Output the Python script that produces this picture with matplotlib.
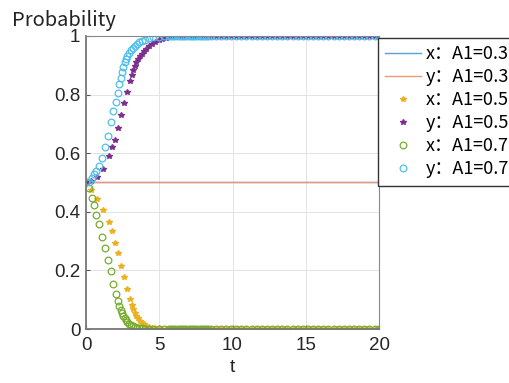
import matplotlib
matplotlib.use("Agg")
import matplotlib.pyplot as plt

# A1 = 0.3: both x and y stay at 0.5
t03 = [0.0, 20.0]
x03 = [0.5, 0.5]
y03 = [0.5, 0.5]

# A1 = 0.5 (transition part)
t05 = [0.0, 0.34, 0.73, 1.14, 1.55, 1.75, 1.98, 2.21, 2.39, 2.60, 2.80, 3.00,
       3.12, 3.23, 3.33, 3.44, 3.56, 3.68, 3.81, 3.96, 4.12, 4.30, 4.50, 4.72,
       4.96, 5.22, 5.45, 5.65]
x05 = [0.5, 0.474, 0.442, 0.405, 0.366, 0.333, 0.293, 0.259, 0.216, 0.176,
       0.136, 0.102, 0.082, 0.068, 0.056, 0.046, 0.036, 0.028, 0.021, 0.016,
       0.011, 0.007, 0.005, 0.003, 0.002, 0.001, 0.0, 0.0]
y05 = [0.5, 0.506, 0.52, 0.545, 0.59, 0.62, 0.645, 0.685, 0.729, 0.772, 0.81,
       0.848, 0.868, 0.885, 0.898, 0.91, 0.921, 0.931, 0.94, 0.949, 0.957,
       0.965, 0.972, 0.979, 0.985, 0.99, 0.994, 0.997]

# A1 = 0.7 (transition part)
t07 = [0.0, 0.18, 0.39, 0.55, 0.70, 0.89, 1.09, 1.28, 1.48, 1.69, 1.86, 2.03,
       2.16, 2.27, 2.37, 2.46, 2.55, 2.64, 2.73, 2.83, 2.94, 3.06, 3.19, 3.33,
       3.48, 3.65, 3.84, 4.05, 4.30, 4.60, 4.95, 5.30, 5.65]
x07 = [0.5, 0.48, 0.446, 0.423, 0.39, 0.357, 0.315, 0.277, 0.236, 0.197,
       0.155, 0.12, 0.097, 0.08, 0.066, 0.055, 0.045, 0.037, 0.03, 0.023,
       0.017, 0.012, 0.009, 0.006, 0.004, 0.003, 0.002, 0.001, 0.0, 0.0, 0.0,
       0.0, 0.0]
y07 = [0.5, 0.503, 0.517, 0.528, 0.54, 0.556, 0.585, 0.62, 0.66, 0.705,
       0.745, 0.775, 0.805, 0.835, 0.857, 0.877, 0.895, 0.91, 0.922, 0.933,
       0.943, 0.952, 0.96, 0.967, 0.973, 0.979, 0.984, 0.988, 0.992, 0.995,
       0.997, 0.999, 1.0]

# steady part after the transition (same sampling for both solutions)
t_tail = [5.8, 5.95, 6.1, 6.25, 6.4, 6.55, 6.7, 6.85, 7.0, 7.15, 7.3, 7.45,
          7.6, 7.75, 7.9, 8.05, 8.2, 8.35, 8.5, 8.85, 9.2, 9.55, 9.9, 10.25,
          10.6, 10.95, 11.3, 11.65, 12.0, 12.35, 12.7, 13.05, 13.4, 13.75,
          14.1, 14.45, 14.8, 15.15, 15.5, 15.85, 16.2, 16.55, 16.9, 17.25,
          17.6, 17.95, 18.3, 18.65, 19.0, 19.35, 19.7, 20.0]
x_tail = [0.0, 0.0, 0.0, 0.0, 0.0, 0.0, 0.0, 0.0, 0.0, 0.0, 0.0, 0.0, 0.0,
          0.0, 0.0, 0.0, 0.0, 0.0, 0.0, 0.0, 0.0, 0.0, 0.0, 0.0, 0.0, 0.0,
          0.0, 0.0, 0.0, 0.0, 0.0, 0.0, 0.0, 0.0, 0.0, 0.0, 0.0, 0.0, 0.0,
          0.0, 0.0, 0.0, 0.0, 0.0, 0.0, 0.0, 0.0, 0.0, 0.0, 0.0, 0.0, 0.0]
y_tail = [1.0, 1.0, 1.0, 1.0, 1.0, 1.0, 1.0, 1.0, 1.0, 1.0, 1.0, 1.0, 1.0,
          1.0, 1.0, 1.0, 1.0, 1.0, 1.0, 1.0, 1.0, 1.0, 1.0, 1.0, 1.0, 1.0,
          1.0, 1.0, 1.0, 1.0, 1.0, 1.0, 1.0, 1.0, 1.0, 1.0, 1.0, 1.0, 1.0,
          1.0, 1.0, 1.0, 1.0, 1.0, 1.0, 1.0, 1.0, 1.0, 1.0, 1.0, 1.0, 1.0]

labels = ["x：A1=0.3", "y：A1=0.3", "x：A1=0.5", "y：A1=0.5", "x：A1=0.7", "y：A1=0.7"]
xticks = [0, 5, 10, 15, 20]
yticks = [0, 0.2, 0.4, 0.6, 0.8, 1]

cjk = ["Noto Sans CJK SC", "DejaVu Sans"]

fig = plt.figure(figsize=(5.1, 3.83), dpi=100)
ax = fig.add_axes([86 / 510, 1 - 329 / 383, 293 / 510, 293 / 383])

ax.plot(t03, x03, color="#5a9fd6", lw=1.0, label=labels[0])
ax.plot(t03, y03, color="#ee9878", lw=1.0, label=labels[1])
ax.plot(t05 + t_tail, x05 + x_tail, ls="none", marker="*", ms=3.8,
        color="#EDB120", label=labels[2])
ax.plot(t05 + t_tail, y05 + y_tail, ls="none", marker="*", ms=3.8,
        color="#7E2F8E", label=labels[3])
ax.plot(t07 + t_tail, x07 + x_tail, ls="none", marker="o", ms=4.8, mew=0.9,
        mfc="none", color="#77AC30", label=labels[4])
ax.plot(t07 + t_tail, y07 + y_tail, ls="none", marker="o", ms=4.8, mew=0.9,
        mfc="none", color="#4DBEEE", label=labels[5])

ax.set_xlim(0, 20)
ax.set_ylim(0, 1)
ax.set_xticks(xticks)
ax.set_yticks(yticks)
ax.set_xticklabels([str(v) for v in xticks])
ax.set_yticklabels(["0", "0.2", "0.4", "0.6", "0.8", "1"])
ax.tick_params(direction="in", length=3, width=0.8, colors="#555555",
               labelcolor="#262626", labelsize=13.5)
ax.tick_params(axis="x", pad=6)
ax.tick_params(axis="y", pad=4)
for lab in ax.get_xticklabels() + ax.get_yticklabels():
    lab.set_family("Liberation Sans")
ax.grid(True, color="#e3e3e3", lw=0.7)
ax.set_axisbelow(True)
for side in ["top", "right"]:
    ax.spines[side].set_color("#888888")
    ax.spines[side].set_linewidth(0.8)
for side in ["left", "bottom"]:
    ax.spines[side].set_color("#777777")
    ax.spines[side].set_linewidth(1.3)

ax.set_xlabel("t", fontsize=14, family="Liberation Sans", color="#262626",
              labelpad=3)
fig.text(12 / 510, 1 - 26 / 383, "Probability", fontsize=14.5, family=cjk,
         color="#222222", va="baseline")

# legend runs past the right edge of the figure, as in the original
leg = ax.legend(loc="upper left", bbox_to_anchor=(378 / 510, 1 - 38 / 383),
                bbox_transform=fig.transFigure, borderaxespad=0,
                prop={"family": cjk, "size": 13}, numpoints=1,
                handlelength=2.0, handletextpad=0.25, labelspacing=0.28,
                borderpad=0.4, fancybox=False, framealpha=1)
leg.get_frame().set_edgecolor("#333333")
leg.get_frame().set_linewidth(1.0)

fig.savefig("out.png", dpi=100)
